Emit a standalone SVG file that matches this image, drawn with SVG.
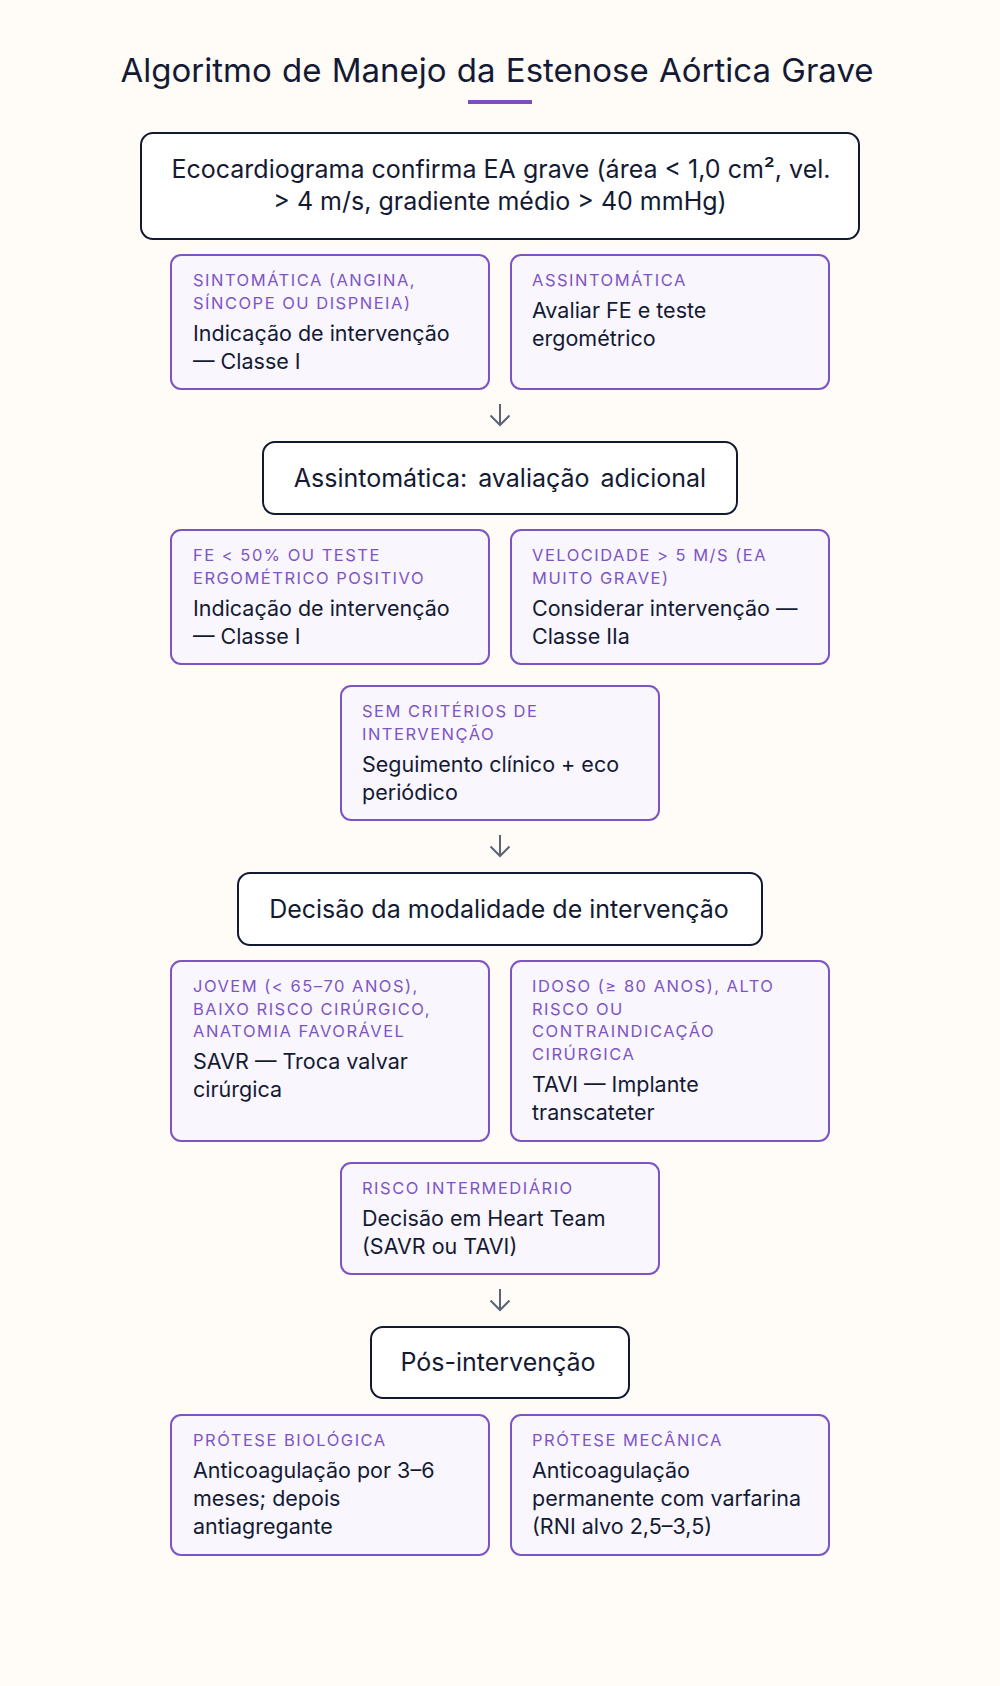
<svg xmlns="http://www.w3.org/2000/svg" width="1000" height="1686" viewBox="0 0 1000 1686">
<style>
.bg{fill:#fffbf7}
.title{font-family:Inter,"Noto Sans",sans-serif;font-size:33px;word-spacing:1px;fill:#141a33;text-anchor:middle}
.main rect{fill:#ffffff;stroke:#111a30;stroke-width:2}
.main text{font-family:Inter,"Noto Sans",sans-serif;font-size:25px;fill:#141a33;text-anchor:middle}
.opt rect{fill:#f9f6fe;stroke:#7d55c3;stroke-width:2}
.lbl{font-family:Inter,"Noto Sans",sans-serif;font-size:16.5px;letter-spacing:1.5px;fill:#7d55c3}
.body{font-family:Inter,"Noto Sans",sans-serif;font-size:21.5px;fill:#141a33}
.conn path{fill:none;stroke:#5b6578;stroke-width:2;stroke-linecap:butt}
</style>
<rect class="bg" x="0" y="0" width="1000" height="1686"/>
<text class="title" x="497" y="82">Algoritmo de Manejo da Estenose Aórtica Grave</text>
<rect x="468" y="100" width="64" height="4" fill="#7c4dbd"/>

<g id="n-eco" class="main">
<rect x="141" y="133" width="718" height="106" rx="12"/>
<text x="501" y="178">Ecocardiograma confirma EA grave (área &lt; 1,0 cm², vel.</text>
<text x="500" y="210">&gt; 4 m/s, gradiente médio &gt; 40 mmHg)</text>
</g>

<g id="n-sint" class="opt">
<rect x="171" y="255" width="318" height="134" rx="10"/>
<text class="lbl" x="193" y="286">SINTOMÁTICA (ANGINA,</text>
<text class="lbl" x="193" y="308.5">SÍNCOPE OU DISPNEIA)</text>
<text class="body" x="193" y="340.5">Indicação de intervenção</text>
<text class="body" x="193" y="368.5">— Classe I</text>
</g>

<g id="n-assint" class="opt">
<rect x="511" y="255" width="318" height="134" rx="10"/>
<text class="lbl" x="532" y="286">ASSINTOMÁTICA</text>
<text class="body" x="532" y="318">Avaliar FE e teste</text>
<text class="body" x="532" y="346">ergométrico</text>
</g>

<g id="n-aval" class="main">
<rect x="263" y="442" width="474" height="72" rx="12"/>
<text x="500" y="486.5" word-spacing="4">Assintomática: avaliação adicional</text>
</g>

<g id="n-fe" class="opt">
<rect x="171" y="530" width="318" height="134" rx="10"/>
<text class="lbl" x="193" y="561">FE &lt; 50% OU TESTE</text>
<text class="lbl" x="193" y="583.5">ERGOMÉTRICO POSITIVO</text>
<text class="body" x="193" y="615.5">Indicação de intervenção</text>
<text class="body" x="193" y="643.5">— Classe I</text>
</g>

<g id="n-vel" class="opt">
<rect x="511" y="530" width="318" height="134" rx="10"/>
<text class="lbl" x="532" y="561">VELOCIDADE &gt; 5 M/S (EA</text>
<text class="lbl" x="532" y="583.5">MUITO GRAVE)</text>
<text class="body" x="532" y="615.5">Considerar intervenção —</text>
<text class="body" x="532" y="643.5">Classe IIa</text>
</g>

<g id="n-sem" class="opt">
<rect x="341" y="686" width="318" height="134" rx="10"/>
<text class="lbl" x="362" y="717">SEM CRITÉRIOS DE</text>
<text class="lbl" x="362" y="739.5">INTERVENÇÃO</text>
<text class="body" x="362" y="771.5">Seguimento clínico + eco</text>
<text class="body" x="362" y="799.5">periódico</text>
</g>

<g id="n-decisao" class="main">
<rect x="238" y="873" width="524" height="72" rx="12"/>
<text x="499" y="917.5">Decisão da modalidade de intervenção</text>
</g>

<g id="n-savr" class="opt">
<rect x="171" y="961" width="318" height="180" rx="10"/>
<text class="lbl" x="193" y="992">JOVEM (&lt; 65–70 ANOS),</text>
<text class="lbl" x="193" y="1014.5">BAIXO RISCO CIRÚRGICO,</text>
<text class="lbl" x="193" y="1037">ANATOMIA FAVORÁVEL</text>
<text class="body" x="193" y="1069">SAVR — Troca valvar</text>
<text class="body" x="193" y="1097">cirúrgica</text>
</g>

<g id="n-tavi" class="opt">
<rect x="511" y="961" width="318" height="180" rx="10"/>
<text class="lbl" x="532" y="992">IDOSO (≥ 80 ANOS), ALTO</text>
<text class="lbl" x="532" y="1014.5">RISCO OU</text>
<text class="lbl" x="532" y="1037">CONTRAINDICAÇÃO</text>
<text class="lbl" x="532" y="1059.5">CIRÚRGICA</text>
<text class="body" x="532" y="1091.5">TAVI — Implante</text>
<text class="body" x="532" y="1119.5">transcateter</text>
</g>

<g id="n-risco" class="opt">
<rect x="341" y="1163" width="318" height="111" rx="10"/>
<text class="lbl" x="362" y="1194">RISCO INTERMEDIÁRIO</text>
<text class="body" x="362" y="1225.5">Decisão em Heart Team</text>
<text class="body" x="362" y="1253.5">(SAVR ou TAVI)</text>
</g>

<g id="n-pos" class="main">
<rect x="371" y="1327" width="258" height="71" rx="12"/>
<text x="498" y="1371">Pós-intervenção</text>
</g>

<g id="n-bio" class="opt">
<rect x="171" y="1415" width="318" height="140" rx="10"/>
<text class="lbl" x="193" y="1446">PRÓTESE BIOLÓGICA</text>
<text class="body" x="193" y="1478">Anticoagulação por 3–6</text>
<text class="body" x="193" y="1506">meses; depois</text>
<text class="body" x="193" y="1534">antiagregante</text>
</g>

<g id="n-mec" class="opt">
<rect x="511" y="1415" width="318" height="140" rx="10"/>
<text class="lbl" x="532" y="1446">PRÓTESE MECÂNICA</text>
<text class="body" x="532" y="1478">Anticoagulação</text>
<text class="body" x="532" y="1506">permanente com varfarina</text>
<text class="body" x="532" y="1534">(RNI alvo 2,5–3,5)</text>
</g>

<g id="connectors" class="conn">
<path d="M500 404 V425 M490.5 415.5 L500 425 L509.5 415.5"/>
<path d="M500 835 V856 M490.5 846.5 L500 856 L509.5 846.5"/>
<path d="M500 1289 V1310 M490.5 1300.5 L500 1310 L509.5 1300.5"/>
</g>
</svg>
